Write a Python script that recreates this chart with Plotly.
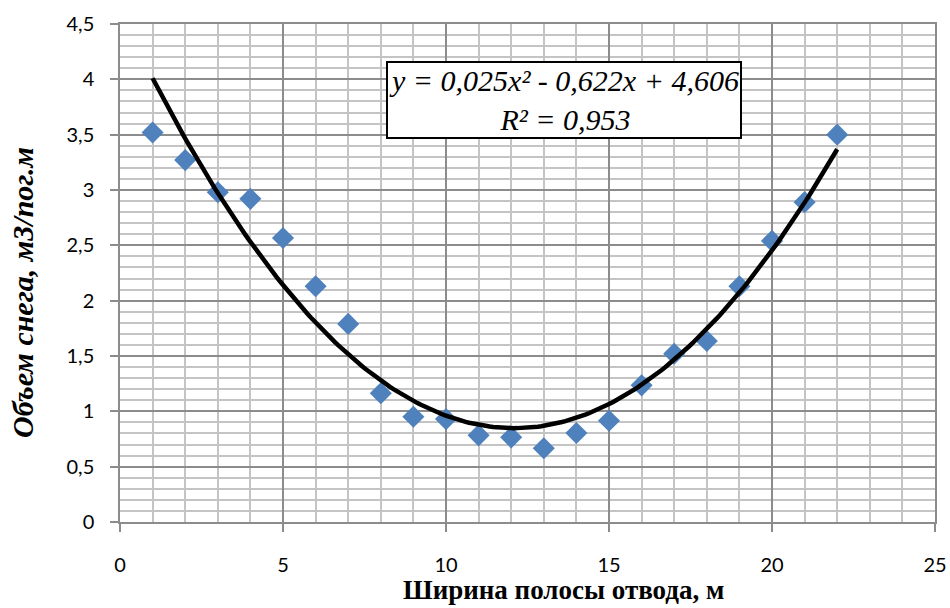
import numpy as np
import plotly.graph_objects as go

x_vals = [1, 2, 3, 4, 5, 6, 7, 8, 9, 10, 11, 12, 13, 14, 15, 16, 17, 18, 19, 20, 21, 22]
y_vals = [3.52, 3.27, 2.98, 2.92, 2.566, 2.13, 1.79, 1.163, 0.951, 0.93, 0.783, 0.765,
          0.666, 0.804, 0.915, 1.235, 1.52, 1.635, 2.13, 2.54, 2.89, 3.50]

eq_text = "y = 0,025x² - 0,622x + 4,606<br>R² = 0,953"
x_title = "Ширина полосы отвода, м"
y_title = "Объем снега, м3/пог.м"

coef = np.polyfit(x_vals, y_vals, 2)
xt = np.linspace(min(x_vals), max(x_vals), 200)
yt = np.polyval(coef, xt)

fig = go.Figure()
fig.add_trace(go.Scatter(x=x_vals, y=y_vals, mode="markers",
                         marker=dict(symbol="diamond", size=17, color="#4F81BD"),
                         showlegend=False))
fig.add_trace(go.Scatter(x=xt, y=yt, mode="lines",
                         line=dict(color="black", width=4.5), showlegend=False))

fig.add_annotation(x=13.62, y=3.81, xref="x", yref="y", showarrow=False,
                   text="<i>" + eq_text + "</i>",
                   font=dict(family="Liberation Serif", size=30, color="black"),
                   bgcolor="white", bordercolor="black", borderwidth=2, borderpad=1,
                   align="center")

# axis titles
fig.add_annotation(x=0.5436, y=-0.137, xref="paper", yref="paper", showarrow=False,
                   text="<b>" + x_title + "</b>", xanchor="center", yanchor="middle",
                   font=dict(family="Liberation Serif", size=27, color="black"))
fig.add_annotation(x=-0.119, y=0.46, xref="paper", yref="paper", showarrow=False,
                   text="<b><i>" + y_title + "</i></b>", textangle=-90,
                   xanchor="center", yanchor="middle",
                   font=dict(family="Liberation Serif", size=30, color="black"))

tickfont = dict(family="Lato", size=20, color="black")
fig.update_layout(
    width=950, height=608,
    margin=dict(l=120, r=15, t=24, b=86),
    paper_bgcolor="white", plot_bgcolor="white",
    separators=", ",
    xaxis=dict(range=[0, 25], dtick=5, tick0=0, automargin=False,
               showgrid=True, gridcolor="#8c8c8c", gridwidth=1.5,
               minor=dict(dtick=1, showgrid=True, gridcolor="#c4c4c4", gridwidth=1.5),
               ticks="outside", ticklen=8, tickcolor="#8c8c8c", tickwidth=1.5,
               ticklabelstandoff=16,
               showline=True, linecolor="#8c8c8c", linewidth=1.5, mirror=True,
               zeroline=False, tickfont=tickfont),
    yaxis=dict(range=[0, 4.5], dtick=0.5, tick0=0, automargin=False,
               showgrid=True, gridcolor="#8c8c8c", gridwidth=1.5,
               minor=dict(dtick=0.1, showgrid=True, gridcolor="#c4c4c4", gridwidth=1.5),
               ticks="outside", ticklen=8, tickcolor="#8c8c8c", tickwidth=1.5,
               ticklabelstandoff=12,
               showline=True, linecolor="#8c8c8c", linewidth=1.5, mirror=True,
               zeroline=False, tickfont=tickfont),
)

fig.write_html("out.html")
